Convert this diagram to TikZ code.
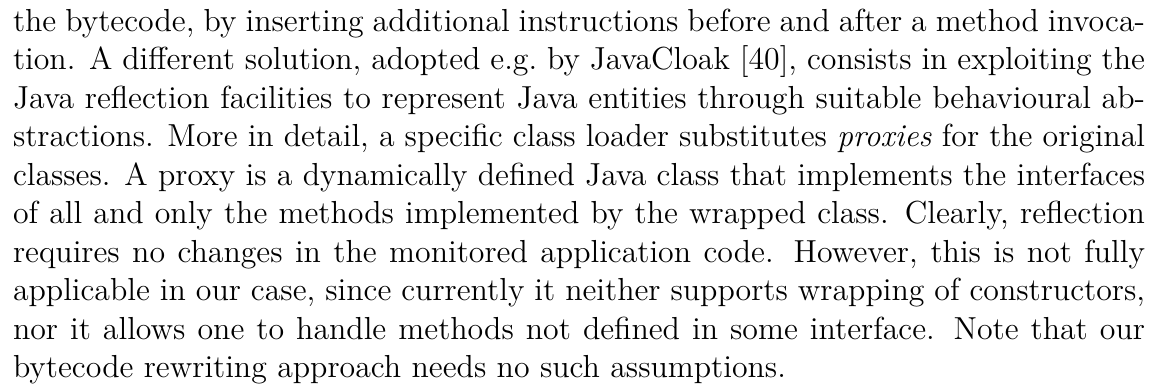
\documentclass[tikz,border=0pt]{standalone}
\usepackage{fontspec}
\begin{document}
\begin{tikzpicture}
\tikzset{para/.style={anchor=north west, inner sep=0pt, outer sep=0pt, text width=426.4pt, align=justify, font=\fontsize{12pt}{14.5pt}\selectfont}}
\useasboundingbox (0,0) rectangle (434.3pt,145.0pt);
\node[para] (p) at (4.9pt,141.65pt) {\noindent
the bytecode, by inserting additional instructions before and after a method invoca-\linebreak
tion. A different solution, adopted e.g.\ by JavaCloak [40], consists in exploiting the\linebreak
Java reflection facilities to represent Java entities through suitable behavioural ab-\linebreak
stractions. More in detail, a specific class loader substitutes \emph{proxies} for the original\linebreak
classes. A proxy is a dynamically defined Java class that implements the interfaces\linebreak
of all and only the methods implemented by the wrapped class. Clearly, reflection\linebreak
requires no changes in the monitored application code. However, this is not fully\linebreak
applicable in our case, since currently it neither supports wrapping of constructors,\linebreak
nor it allows one to handle methods not defined in some interface. Note that our\linebreak
bytecode rewriting approach needs no such assumptions.};
\end{tikzpicture}
\end{document}
